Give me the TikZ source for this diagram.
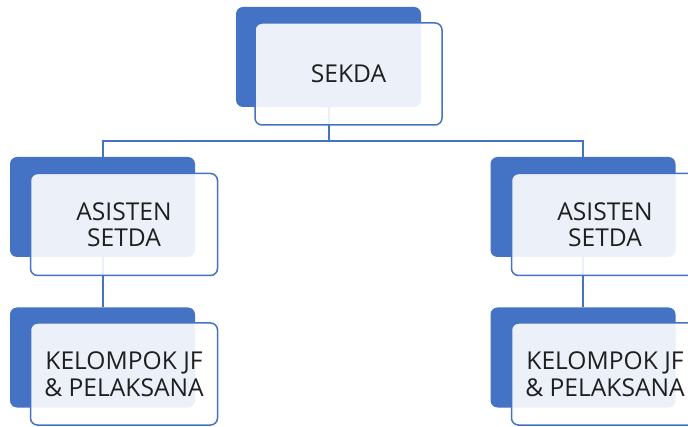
\documentclass[tikz,border=0pt]{standalone}
\usepackage{fontspec}
\setmainfont{Open Sans}
\definecolor{accent}{HTML}{4472C4}
\definecolor{txt}{HTML}{1F1F1F}
\begin{document}
\begin{tikzpicture}[x=1pt,y=-1pt,
  back/.style={draw=none,fill=accent,rounded corners=7pt,minimum width=185pt,minimum height=100pt,inner sep=0pt},
  front/.style={draw=accent,line width=1.5pt,fill=white,fill opacity=0.9,text opacity=1,rounded corners=7pt,minimum width=187pt,minimum height=102pt,inner sep=0pt,align=center,font=\fontsize{24.6}{26.5}\selectfont,text=txt},
  link/.style={draw=accent,line width=2pt}]
\clip (0,0) rectangle (688,427);
\fill[white] (0,0) rectangle (688,427);
% back shapes
\node[back] (b0) at (328.5,57) {};
\node[back] (b1) at (102.5,207) {};
\node[back] (b2) at (583,207) {};
\node[back] (b3) at (102.5,357.5) {};
\node[back] (b4) at (583,357.5) {};
% connectors
\coordinate (bus) at (328.5,141);
\draw[link] (b0.south) -- (bus);
\draw[link] (bus) -| (b1.north);
\draw[link] (bus) -| (b2.north);
\draw[link] (b1.south) -- (b3.north);
\draw[link] (b2.south) -- (b4.north);
% front shapes
\node[front] (f0) at (348.5,74) {SEKDA};
\node[front] (f1) at (124,224.5) {ASISTEN\\SETDA};
\node[front] (f2) at (605,224.5) {ASISTEN\\SETDA};
\node[front] (f3) at (124,374) {KELOMPOK JF\\\& PELAKSANA};
\node[front] (f4) at (605,374) {KELOMPOK JF\\\& PELAKSANA};
\end{tikzpicture}
\end{document}
